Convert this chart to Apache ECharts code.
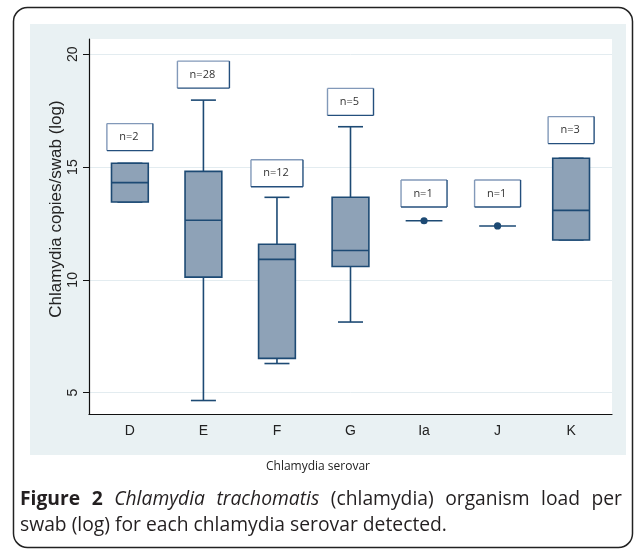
<!DOCTYPE html>
<html>
<head>
<meta charset="utf-8">
<script src="https://cdn.jsdelivr.net/npm/echarts@6/dist/echarts.min.js"></script>
<style>
html,body{margin:0;padding:0;background:#fff;}
#chart{width:635px;height:551px;}
</style>
</head>
<body>
<div id="chart"></div>
<script>
// ---- data ----
const categories = ['D', 'E', 'F', 'G', 'Ia', 'J', 'K'];
const mins    = [13.45, 4.65, 6.29, 8.13, 12.62, 12.39, 11.77];
const q1s     = [13.45, 10.12, 6.52, 10.59, 12.62, 12.39, 11.77];
const medians = [14.31, 12.64, 10.91, 11.30, 12.62, 12.39, 13.08];
const q3s     = [15.17, 14.81, 11.58, 13.66, 12.62, 12.39, 15.39];
const maxs    = [15.17, 17.97, 13.66, 16.79, 12.62, 12.39, 15.39];
const counts  = [2, 28, 12, 5, 1, 1, 3];
const countLabelY = [16.33, 19.10, 14.73, 17.89, 13.83, 13.83, 16.64];
const yTicks = [5, 10, 15, 20];
const xTicks = [0, 1, 2, 3, 4, 5, 6];

const boxData = categories.map((c, i) => [i, mins[i], q1s[i], medians[i], q3s[i], maxs[i], counts[i], countLabelY[i]]);

const navy = '#1d4a74';
const boxFill = '#8ea2b7';

function renderItem(params, api) {
  const i = api.value(0);
  const x = api.coord([i, 0])[0];
  const band = api.size([1, 0])[0];
  const bw = band * 0.5;
  const cw = bw * 0.68;
  const y = v => api.coord([i, v])[1];
  const n = api.value(6);
  const children = [];
  const ls = {stroke: navy, lineWidth: 1.6, fill: null};
  if (n === 1) {
    const yy = y(api.value(3));
    children.push({type: 'line', shape: {x1: x - bw / 2, y1: yy, x2: x + bw / 2, y2: yy}, style: ls});
    children.push({type: 'circle', shape: {cx: x, cy: yy, r: 3.6}, style: {fill: navy}});
  } else {
    const yMin = y(api.value(1)), yQ1 = y(api.value(2)), yMed = y(api.value(3)), yQ3 = y(api.value(4)), yMax = y(api.value(5));
    children.push({type: 'line', shape: {x1: x, y1: yMax, x2: x, y2: yQ3}, style: ls});
    children.push({type: 'line', shape: {x1: x, y1: yQ1, x2: x, y2: yMin}, style: ls});
    children.push({type: 'line', shape: {x1: x - cw / 2, y1: yMax, x2: x + cw / 2, y2: yMax}, style: ls});
    children.push({type: 'line', shape: {x1: x - cw / 2, y1: yMin, x2: x + cw / 2, y2: yMin}, style: ls});
    children.push({type: 'rect', shape: {x: x - bw / 2, y: yQ3, width: bw, height: yQ1 - yQ3}, style: {fill: boxFill, stroke: navy, lineWidth: 1.6}});
    children.push({type: 'line', shape: {x1: x - bw / 2, y1: yMed, x2: x + bw / 2, y2: yMed}, style: ls});
  }
  // count label box (light top/left edges, dark bottom/right edges)
  const ly = y(api.value(7));
  const txt = 'n=' + n;
  const w = n >= 10 ? 52 : 46;
  const h = 27;
  const l = x - w / 2, t = ly - h / 2, r = l + w, b = t + h;
  const light = {stroke: '#8299b9', lineWidth: 1.4};
  const dark = {stroke: '#244f7d', lineWidth: 1.4};
  children.push({type: 'rect', shape: {x: l, y: t, width: w, height: h}, style: {fill: '#fff'}});
  children.push({type: 'line', shape: {x1: l, y1: t, x2: r, y2: t}, style: light});
  children.push({type: 'line', shape: {x1: l, y1: t, x2: l, y2: b}, style: light});
  children.push({type: 'line', shape: {x1: l, y1: b, x2: r, y2: b}, style: dark});
  children.push({type: 'line', shape: {x1: r, y1: t, x2: r, y2: b}, style: dark});
  children.push({type: 'text', style: {text: txt, x: x - 1, y: ly, align: 'center', verticalAlign: 'middle', font: '11px "Open Sans", sans-serif', fill: '#333'}});
  return {type: 'group', children};
}

// justified caption layout (text placement only)
const capFont = 19.3;
const measureCtx = document.createElement('canvas').getContext('2d');
function fontStr(st) {
  return (st === 'i' ? 'italic ' : '') + (st === 'b' ? 'bold ' : '') + capFont + 'px "Open Sans"';
}
function wordsToGraphics(words, left, right, yc, justify) {
  const widths = words.map(([w, st]) => { measureCtx.font = fontStr(st); return measureCtx.measureText(w).width; });
  const total = widths.reduce((a, b) => a + b, 0);
  measureCtx.font = fontStr('');
  const space = measureCtx.measureText(' ').width;
  const gap = justify ? (right - left - total) / (words.length - 1) : space;
  let xx = left;
  return words.map(([w, st], k) => {
    const g = {type: 'text', z: 10, x: xx, y: yc, style: {text: w, verticalAlign: 'middle', font: fontStr(st), fill: '#231f20'}};
    xx += widths[k] + gap;
    return g;
  });
}
const line1 = [['Figure', 'b'], ['2', 'b'], ['Chlamydia', 'i'], ['trachomatis', 'i'], ['(chlamydia)', ''], ['organism', ''], ['load', ''], ['per', '']];
const line2 = [['swab', ''], ['(log)', ''], ['for', ''], ['each', ''], ['chlamydia', ''], ['serovar', ''], ['detected.', '']];

const chart = echarts.init(document.getElementById('chart'), null, {renderer: 'canvas'});
chart.setOption({
  animation: false,
  backgroundColor: '#fff',
  grid: {left: 89, top: 39, width: 523, height: 375.5, show: true, backgroundColor: '#fff', borderWidth: 0, containLabel: false},
  xAxis: {
    type: 'value', min: -0.556, max: 6.556,
    axisLine: {show: true, onZero: false, lineStyle: {color: '#111', width: 1.2}},
    axisTick: {show: false},
    splitLine: {show: false},
    axisLabel: {customValues: xTicks, formatter: v => categories[Math.round(v)], color: '#222', fontSize: 14, fontFamily: 'Liberation Sans, Arial, sans-serif', margin: 10}
  },
  yAxis: {
    type: 'value', min: 4.03, max: 20.68,
    axisLine: {show: true, onZero: false, lineStyle: {color: '#111', width: 1.2}},
    axisTick: {show: true, length: 6, customValues: yTicks, lineStyle: {color: '#111', width: 1}},
    splitLine: {show: true, lineStyle: {color: '#e3ecf0', width: 1}},
    axisLabel: {customValues: yTicks, rotate: 90, color: '#222', fontSize: 14, fontFamily: 'Liberation Sans, Arial, sans-serif', margin: 9}
  },
  graphic: [
    {type: 'rect', z: -10, shape: {x: 30, y: 24, width: 596, height: 431}, style: {fill: '#e9f1f3'}},
    {type: 'rect', z: 10, shape: {x: 13.5, y: 7.5, width: 619, height: 540, r: 14}, style: {fill: null, stroke: '#222', lineWidth: 1.5}},
    {type: 'text', z: 10, x: 56, y: 209, rotation: Math.PI / 2, style: {text: 'Chlamydia copies/swab (log)', align: 'center', verticalAlign: 'middle', font: '17px "Liberation Sans", Arial, sans-serif', fill: '#222'}},
    {type: 'text', z: 10, x: 318, y: 467, style: {text: 'Chlamydia serovar', align: 'center', verticalAlign: 'middle', font: '12px "Open Sans", sans-serif', fill: '#222'}}
  ].concat(wordsToGraphics(line1, 20, 622, 500, true), wordsToGraphics(line2, 20, 622, 526, false)),
  series: [{
    type: 'custom',
    renderItem: renderItem,
    encode: {x: 0, y: [1, 5]},
    data: boxData,
    silent: true,
    clip: false
  }]
});
</script>
</body>
</html>
